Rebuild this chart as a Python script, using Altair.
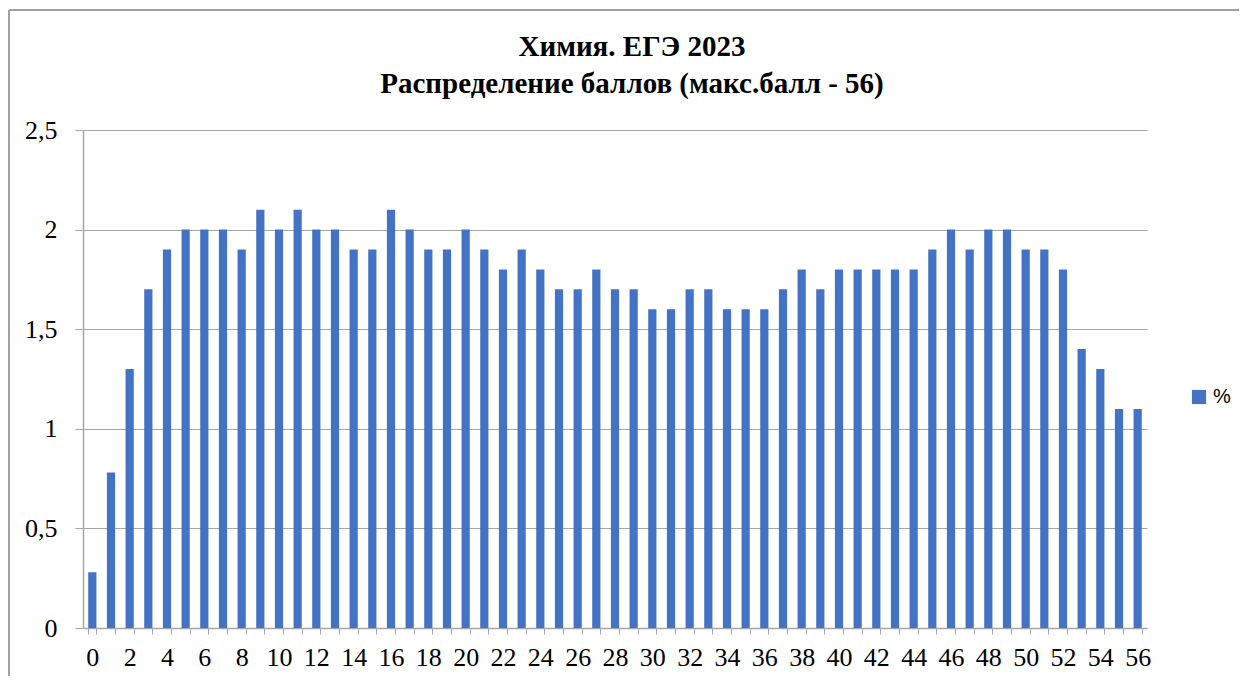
import altair as alt
import pandas as pd

scores = list(range(0, 57))
percent = [0.28, 0.78, 1.3, 1.7, 1.9, 2.0, 2.0, 2.0, 1.9, 2.1,
           2.0, 2.1, 2.0, 2.0, 1.9, 1.9, 2.1, 2.0, 1.9, 1.9,
           2.0, 1.9, 1.8, 1.9, 1.8, 1.7, 1.7, 1.8, 1.7, 1.7,
           1.6, 1.6, 1.7, 1.7, 1.6, 1.6, 1.6, 1.7, 1.8, 1.7,
           1.8, 1.8, 1.8, 1.8, 1.8, 1.9, 2.0, 1.9, 2.0, 2.0,
           1.9, 1.9, 1.8, 1.4, 1.3, 1.1, 1.1]
series = "%"
title_lines = ["Химия. ЕГЭ 2023", "Распределение баллов (макс.балл - 56)"]

df = pd.DataFrame({"score": scores, "pct": percent, "series": [series] * len(scores)})
one = pd.DataFrame({"k": [0]})

FONT = "'Times New Roman', 'Liberation Serif', 'DejaVu Serif', serif"
W, H = 1064, 498

bars = alt.Chart(df).mark_bar(color="#4472C4").encode(
    x=alt.X("score:O", sort=scores,
            scale=alt.Scale(paddingInner=0.56, paddingOuter=0.28),
            axis=alt.Axis(title=None, labelAngle=0, labelPadding=10,
                          labelExpr="datum.value % 2 == 0 ? datum.label : ''",
                          tickBand="extent", tickSize=6, grid=False)),
    y=alt.Y("pct:Q", scale=alt.Scale(domain=[0, 2.5], nice=False),
            axis=alt.Axis(title=None, values=[0, 0.5, 1, 1.5, 2, 2.5],
                          labelExpr="replace(format(datum.value, ''), '.', ',')",
                          labelPadding=18, tickSize=8, grid=True)),
    color=alt.Color("series:N", scale=alt.Scale(range=["#4472C4"]),
                    legend=alt.Legend(title=None, orient="none", legendX=1106, legendY=257,
                                      symbolType="square", symbolSize=200,
                                      symbolStrokeWidth=0)),
)

title1 = alt.Chart(one).mark_text(font=FONT, fontSize=29, fontWeight="bold",
                                  color="#000000", baseline="middle", align="center").encode(
    x=alt.value(W / 2 + 17), y=alt.value(-83), text=alt.value(title_lines[0]))
title2 = alt.Chart(one).mark_text(font=FONT, fontSize=29, fontWeight="bold",
                                  color="#000000", baseline="middle", align="center").encode(
    x=alt.value(W / 2 + 17), y=alt.value(-46), text=alt.value(title_lines[1]))

border_top = alt.Chart(one).mark_rule(color="#a0a0a0", strokeWidth=2).encode(
    x=alt.value(-74), x2=alt.value(1170), y=alt.value(-120))
border_left = alt.Chart(one).mark_rule(color="#a0a0a0", strokeWidth=2).encode(
    x=alt.value(-74), y=alt.value(-120), y2=alt.value(560))

chart = alt.layer(bars, title1, title2, border_top, border_left).properties(
    width=W, height=H,
    autosize=alt.AutoSizeParams(type="none"),
    padding={"left": 75, "top": 122, "right": 92, "bottom": 48},
).configure_view(stroke=None).configure_axis(
    labelFont=FONT, labelFontSize=26, labelColor="#000000",
    tickColor="#a6a6a6", domainColor="#a6a6a6", domainWidth=1.5,
    gridColor="#a6a6a6", gridWidth=1.2,
).configure_legend(
    labelFont="'Liberation Sans', Arial, sans-serif", labelFontSize=20, labelColor="#000000",
)

chart.save("out.html", embed_options={"renderer": "svg", "actions": False})
